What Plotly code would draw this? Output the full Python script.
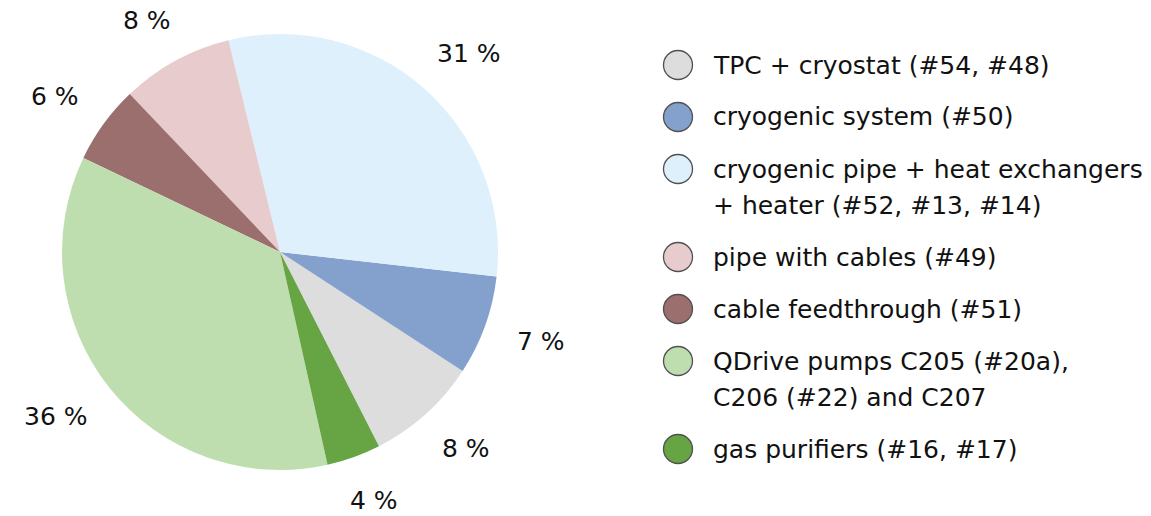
import math
import plotly.graph_objects as go

# ---------------- data ----------------
categories = [
    "TPC + cryostat (#54, #48)",
    "cryogenic system (#50)",
    "cryogenic pipe + heat exchangers + heater (#52, #13, #14)",
    "pipe with cables (#49)",
    "cable feedthrough (#51)",
    "QDrive pumps C205 (#20a), C206 (#22) and C207",
    "gas purifiers (#16, #17)",
]
legend_lines = [
    ["TPC + cryostat (#54, #48)"],
    ["cryogenic system (#50)"],
    ["cryogenic pipe + heat exchangers", "+ heater (#52, #13, #14)"],
    ["pipe with cables (#49)"],
    ["cable feedthrough (#51)"],
    ["QDrive pumps C205 (#20a),", "C206 (#22) and C207"],
    ["gas purifiers (#16, #17)"],
]
values = [8.3, 7.4, 30.6, 8.3, 5.8, 35.6, 4.0]
colors = ["#dddddd", "#84a1cd", "#dff0fd", "#e8cbcc", "#9a6f6d", "#bfdeb0", "#66a444"]

# ---------------- layout constants ----------------
W, H = 1151, 516
CX, CY, R = 280, 252, 218          # pie centre / radius in pixels
START = 297.0                      # math angle (deg, ccw) where first slice starts
LABEL_R = 1.165                    # label distance (fraction of radius)
FONT = "DejaVu Sans"
FS = 25
TEXT_H = 20                        # approx. label box height (px)

total = sum(values)
# plotly (counterclockwise): first slice ends at `rotation` (clockwise from 12 o'clock)
rotation = (90 - START - values[0] / total * 360) % 360

fig = go.Figure()
fig.add_trace(go.Pie(
    values=values,
    labels=categories,
    sort=False,
    direction="counterclockwise",
    rotation=rotation,
    marker=dict(colors=colors, line=dict(width=0)),
    textinfo="none",
    hoverinfo="label+percent",
    showlegend=False,
    domain=dict(x=[(CX - R) / W, (CX + R) / W],
                y=[(H - CY - R) / H, (H - CY + R) / H]),
))

annotations = []
shapes = []


def text_width(s):
    w = {"%": 0.950, " ": 0.318}
    return FS * sum(w.get(ch, 0.636) for ch in s)


# percentage labels computed from the values
cum = 0.0
for v in values:
    mid = math.radians(START + (cum + v / 2) / total * 360)
    cum += v
    txt = f"{round(100 * v / total)} %"
    c, s = math.cos(mid), math.sin(mid)
    px = CX + LABEL_R * R * c + text_width(txt) / 2 * c
    py = CY - LABEL_R * R * s - TEXT_H / 2 * s
    annotations.append(dict(
        x=px / W, y=1 - py / H, xref="paper", yref="paper",
        text=txt, showarrow=False,
        xanchor="center", yanchor="middle",
        font=dict(family=FONT, size=FS, color="#111111"),
    ))

# legend (circle handles + text)
LX_CIRCLE, LX_TEXT, LY0 = 678, 711, 65
ROW, LINE, CR = 52, 36, 14.5
y = LY0
for lines, col in zip(legend_lines, colors):
    shapes.append(dict(
        type="circle", xref="paper", yref="paper",
        x0=(LX_CIRCLE - CR) / W, x1=(LX_CIRCLE + CR) / W,
        y0=1 - (y + CR) / H, y1=1 - (y - CR) / H,
        fillcolor=col, line=dict(color="#505050", width=1.3),
    ))
    for k, t in enumerate(lines):
        annotations.append(dict(
            x=LX_TEXT / W, y=1 - (y + k * LINE) / H, xref="paper", yref="paper",
            text=t, showarrow=False, xanchor="left", yanchor="middle",
            font=dict(family=FONT, size=FS, color="#111111"),
        ))
    y += ROW + (len(lines) - 1) * LINE

fig.update_layout(
    width=W, height=H,
    margin=dict(l=0, r=0, t=0, b=0),
    paper_bgcolor="white", plot_bgcolor="white",
    annotations=annotations, shapes=shapes,
    showlegend=False,
)

fig.write_html("out.html", config={"displayModeBar": False},
               post_script="document.body.style.margin='0';")
